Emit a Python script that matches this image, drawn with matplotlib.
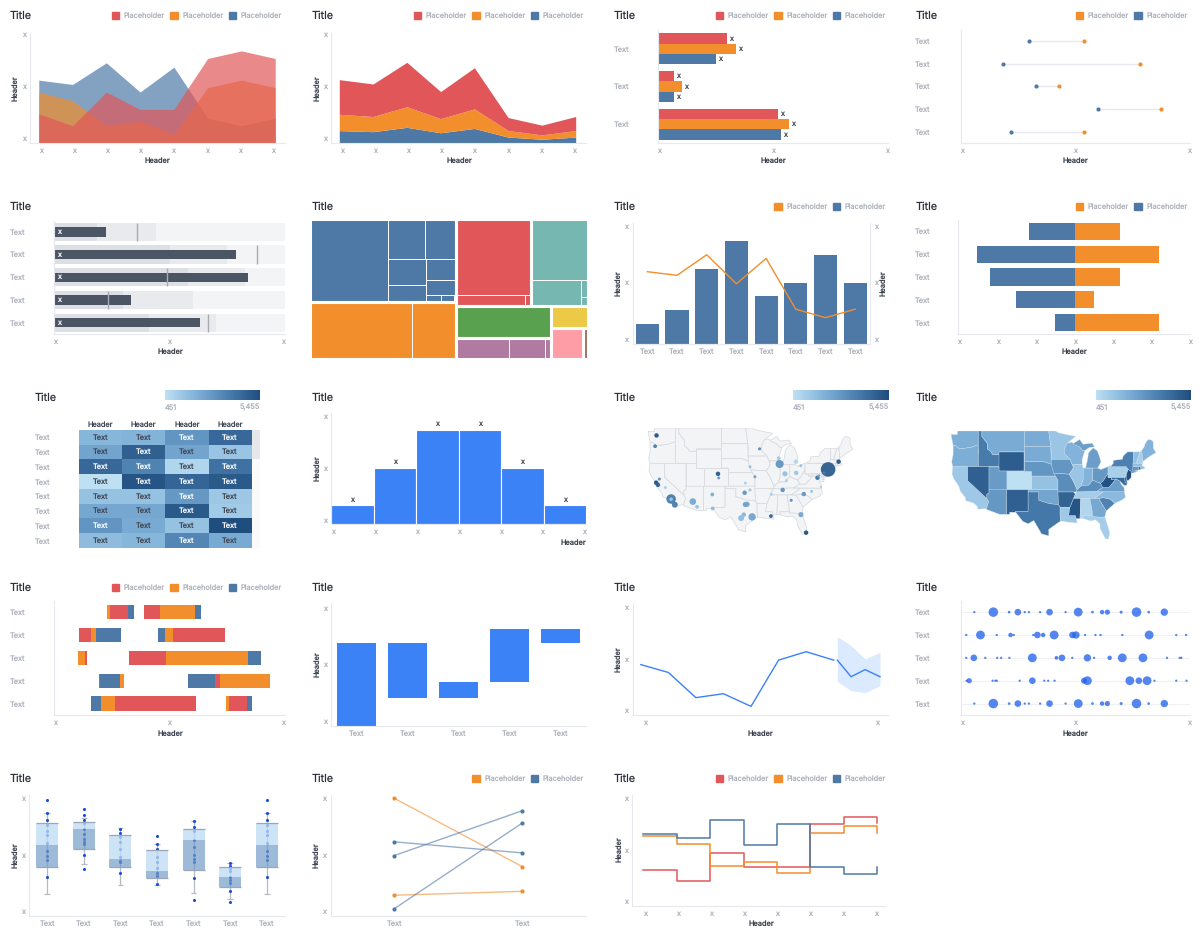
import numpy as np
import matplotlib
matplotlib.use('Agg')
import matplotlib.pyplot as plt
from matplotlib.colors import LinearSegmentedColormap, Normalize
from matplotlib.cm import ScalarMappable
from matplotlib.patches import Patch, Polygon, Rectangle

plt.rcParams['font.family'] = ['Inter', 'DejaVu Sans']
plt.rcParams['text.hinting'] = 'no_hinting'

W, H = 1200, 939
RED, ORANGE, BLUE = '#E15759', '#F28E2B', '#4E79A7'
TEAL, GREEN, YELLOW = '#76B7B2', '#59A14F', '#EDC948'
PURPLE, PINK, BROWN = '#B07AA1', '#FF9DA7', '#9C755F'
BRIGHT = '#3B82F6'
AXIS, GRAY, DARK, INK = '#e7e9ee', '#adb2bc', '#3f4652', '#2b303b'
SMALL = 5.3
TXT = ['Text'] * 5

# ---- data ----
overlap_red = [27, 16, 47, 31, 31, 78, 85, 78]
overlap_orange = [47, 39, 16, 20, 8, 51, 58, 51]
overlap_blue = [58, 54, 74, 47, 70, 23, 16, 23]

stack_blue = [11, 10, 14, 9, 13, 5, 3, 5]
stack_orange = [15, 14, 19, 13, 18, 6, 4, 6]
stack_red = [32, 30, 41, 25, 38, 12, 9, 13]

group_red = [30, 7, 52]
group_orange = [34, 10.5, 57]
group_blue = [25, 7, 53.5]

dumb_blue = [30, 18.7, 33, 60, 22]
dumb_orange = [54, 78, 43, 87.5, 54]

bullet_dark = [18.7, 50, 58, 29.7, 41]
bullet_mid = [44, 75, 82.5, 60, 70]
bullet_bar = [22.7, 79, 84, 33.5, 63]
bullet_target = [36, 88, 49, 23.5, 66.6]

tree_blue = ['h', 47916,
             ['v', ['h', 10998, 9243],
              ['h', ['v', 7275, 4850],
               ['v', 4712, 3268, ['h', 780, 660, 80]]]]]
tree_orange = ['h', 42640, 18204]
tree_red = ['v', 42402, ['h', 5600, 512]]
tree_teal = ['v', 25842, ['h', 9779, ['v', 969, 494]]]
tree_green = 21870
tree_purple = ['h', 8494, 5580, 992]
tree_yellow = 5985
tree_pink = 7298
tree_brown = 1157

combo_bars = [17, 28, 62, 85, 40, 51, 74, 51]
combo_line = [60, 57, 74, 50, 71, 29, 22, 29]

div_blue = [-1.18, -2.54, -2.2, -1.52, -0.51]
div_orange = [1.18, 2.19, 1.18, 0.5, 2.19]

heat_values = [[1900, 2000, 3000, 4500],
               [2500, 4800, 2500, 1400],
               [4500, 3600, 800, 4200],
               [451, 5200, 4600, 5000],
               [1500, 1500, 2900, 1300],
               [2400, 2400, 5000, 1200],
               [3000, 2300, 1500, 5455],
               [1700, 1900, 3500, 2300]]

hist_counts = [1, 3, 5, 5, 3, 1]

state_shapes = {
    'WA': [(-124.7, 48.4), (-123, 48.3), (-122.8, 49), (-117, 49), (-117, 46.4), (-119, 45.9), (-121, 45.7), (-122.3, 45.6), (-123.4, 46.2), (-124.1, 46.3)],
    'OR': [(-124.1, 46.3), (-123.4, 46.2), (-122.3, 45.6), (-121, 45.7), (-119, 45.9), (-117, 46.4), (-116.9, 45), (-117, 44.2), (-117, 42), (-124.2, 42), (-124.5, 43), (-124.1, 44.5)],
    'CA': [(-124.2, 42), (-120, 42), (-120, 39), (-114.6, 35), (-114.1, 34.3), (-114.7, 32.7), (-117.1, 32.5), (-117.3, 33.2), (-118.4, 34), (-120.5, 34.5), (-120.7, 35.3), (-122, 36.6), (-122.5, 37.8), (-123.8, 39.3), (-124.4, 40.4)],
    'NV': [(-120, 42), (-114, 42), (-114, 36.2), (-114.6, 36), (-114.6, 35), (-120, 39)],
    'ID': [(-117, 49), (-116, 49), (-116, 48), (-114.4, 46.6), (-114.5, 45.6), (-113.5, 45.1), (-113, 44.5), (-111.05, 44.5), (-111.05, 42), (-117, 42), (-117, 44.2), (-116.9, 45), (-117, 46.4)],
    'MT': [(-116, 49), (-104.05, 49), (-104.05, 45), (-111.05, 45), (-111.05, 44.5), (-113, 44.5), (-113.5, 45.1), (-114.5, 45.6), (-114.4, 46.6), (-116, 48)],
    'WY': [(-111.05, 45), (-104.05, 45), (-104.05, 41), (-111.05, 41)],
    'UT': [(-114, 42), (-111.05, 42), (-111.05, 41), (-109.05, 41), (-109.05, 37), (-114, 37)],
    'CO': [(-109.05, 41), (-102.05, 41), (-102.05, 37), (-109.05, 37)],
    'AZ': [(-114, 37), (-109.05, 37), (-109.05, 31.3), (-111, 31.3), (-114.8, 32.5), (-114.7, 32.7), (-114.1, 34.3), (-114.6, 35), (-114.6, 36), (-114, 36.2)],
    'NM': [(-109.05, 37), (-103, 37), (-103, 32), (-106.6, 32), (-106.5, 31.8), (-108.2, 31.8), (-108.2, 31.3), (-109.05, 31.3)],
    'ND': [(-104.05, 49), (-97.2, 49), (-96.6, 46), (-104.05, 46)],
    'SD': [(-104.05, 46), (-96.6, 46), (-96.5, 42.5), (-98.5, 43), (-104.05, 43)],
    'NE': [(-104.05, 43), (-98.5, 43), (-96.5, 42.5), (-95.3, 40), (-102.05, 40), (-102.05, 41), (-104.05, 41)],
    'KS': [(-102.05, 40), (-95.3, 40), (-94.6, 39.1), (-94.6, 37), (-102.05, 37)],
    'OK': [(-103, 37), (-94.6, 37), (-94.45, 33.6), (-97, 33.8), (-100, 34.6), (-100, 36.5), (-103, 36.5)],
    'TX': [(-106.6, 32), (-103, 32), (-103, 36.5), (-100, 36.5), (-100, 34.6), (-97, 33.8), (-94.45, 33.6), (-94, 33), (-94, 31), (-93.8, 29.7), (-95, 29), (-97.2, 27.6), (-97.2, 26), (-99.2, 26.5), (-101.4, 29.8), (-103, 29), (-104.5, 29.6), (-106.5, 31.8)],
    'MN': [(-97.2, 49), (-95.2, 49), (-94.6, 48.7), (-92, 48.3), (-89.6, 48), (-92, 46.7), (-92.8, 45.6), (-92.8, 44.7), (-91.2, 43.5), (-96.5, 43.5), (-96.5, 45.3), (-96.6, 46)],
    'IA': [(-96.5, 43.5), (-91.2, 43.5), (-90.2, 41.8), (-91.4, 40.4), (-95.8, 40.6), (-96.5, 42.5)],
    'MO': [(-95.8, 40.6), (-91.4, 40.4), (-90.2, 38.8), (-89.2, 37), (-89.4, 36.5), (-90.2, 36.5), (-94.6, 36.5), (-94.6, 39.1), (-95.3, 40)],
    'AR': [(-94.6, 36.5), (-90.2, 36.5), (-89.7, 36), (-90.2, 35), (-91.2, 33), (-94, 33), (-94.45, 33.6)],
    'LA': [(-94, 33), (-91.2, 33), (-91.6, 31), (-89.7, 31), (-89.4, 30.2), (-89.2, 29.2), (-91.5, 29.4), (-93.8, 29.7), (-94, 31)],
    'WI': [(-92, 46.7), (-90.8, 46.9), (-88.5, 46), (-87.7, 45.3), (-87, 45.3), (-87.8, 43.5), (-87.8, 42.5), (-90.6, 42.5), (-91.2, 43.5), (-92.8, 44.7), (-92.8, 45.6)],
    'IL': [(-90.6, 42.5), (-87.8, 42.5), (-87.5, 41.7), (-87.5, 39.3), (-88, 37.9), (-89.2, 37), (-90.2, 38.8), (-91.4, 40.4), (-90.2, 41.8)],
    'IN': [(-87.5, 41.7), (-84.8, 41.7), (-84.8, 39.1), (-86, 38), (-88, 37.9), (-87.5, 39.3)],
    'MI': [(-86.8, 41.75), (-84.8, 41.7), (-83.4, 41.7), (-82.5, 43), (-82.9, 44), (-83.5, 45.2), (-84.7, 45.8), (-86, 44.8), (-86.3, 43.3)],
    'UP': [(-90.4, 46.6), (-88.5, 47.4), (-87.5, 46.5), (-85, 46.7), (-84.3, 46), (-85.7, 45.9), (-87, 45.3), (-87.7, 45.3), (-88.5, 46)],
    'OH': [(-84.8, 41.7), (-83.4, 41.7), (-82.5, 41.4), (-80.5, 42), (-80.5, 40.6), (-81.8, 39), (-82.6, 38.4), (-84.8, 39.1)],
    'KY': [(-89.4, 36.5), (-83.7, 36.6), (-82, 37.5), (-82.6, 38.4), (-84.8, 39.1), (-86, 38), (-88, 37.9), (-89.2, 37)],
    'TN': [(-90.2, 35), (-84.3, 35), (-81.7, 36.6), (-83.7, 36.6), (-89.4, 36.5), (-89.7, 36)],
    'MS': [(-90.2, 35), (-88.2, 35), (-88.4, 30.3), (-89.4, 30.2), (-89.7, 31), (-91.6, 31), (-91.2, 33)],
    'AL': [(-88.2, 35), (-85.6, 35), (-85, 32.3), (-85, 31), (-87.6, 31), (-87.5, 30.3), (-88.4, 30.3)],
    'GA': [(-85.6, 35), (-83.1, 35), (-81, 32.1), (-81.4, 30.7), (-82.2, 30.6), (-84.9, 30.7), (-85, 32.3)],
    'FL': [(-87.6, 31), (-85, 31), (-84.9, 30.7), (-82.2, 30.6), (-81.4, 30.7), (-80.5, 28.2), (-80, 26.8), (-80.4, 25.2), (-81.2, 25.2), (-82.7, 27.8), (-82.8, 29), (-84, 30), (-85.3, 29.7), (-87.5, 30.3)],
    'SC': [(-83.1, 35), (-82, 35.2), (-81, 35.1), (-79.7, 34.8), (-78.6, 33.9), (-81, 32.1)],
    'NC': [(-84.3, 35), (-83.1, 35), (-82, 35.2), (-81, 35.1), (-79.7, 34.8), (-78.6, 33.9), (-76.5, 34.7), (-75.6, 35.3), (-75.9, 36.55), (-81.7, 36.6)],
    'VA': [(-83.7, 36.6), (-75.9, 36.55), (-76, 37.5), (-76.9, 38.3), (-77.1, 38.9), (-78.3, 39.4), (-79.3, 38.4), (-80.3, 37.5), (-82, 37.5)],
    'WV': [(-82.6, 38.4), (-82, 37.5), (-80.3, 37.5), (-79.3, 38.4), (-78.3, 39.4), (-79.5, 39.2), (-79.5, 39.7), (-80.5, 39.7), (-80.5, 40.6), (-81.8, 39)],
    'PA': [(-80.5, 42), (-79.8, 42.25), (-79.8, 42), (-75.4, 42), (-74.8, 41.4), (-75.2, 40.7), (-75.4, 39.8), (-80.5, 39.7)],
    'NY': [(-79.8, 42), (-79, 42.7), (-79, 43.3), (-76.5, 43.5), (-76.2, 44.2), (-75, 45), (-73.35, 45), (-73.3, 42.75), (-73.5, 41.1), (-72, 41), (-74, 40.6), (-74, 41), (-74.8, 41.4), (-75.4, 42)],
    'NJ': [(-74.8, 41.4), (-74, 41), (-74, 40.5), (-74, 39.7), (-74.9, 38.95), (-75.5, 39.5), (-75.2, 40.7)],
    'DE': [(-75.8, 39.7), (-75.4, 39.8), (-75.1, 38.5), (-75.7, 38.5)],
    'MD': [(-79.5, 39.7), (-75.8, 39.7), (-75.7, 38.5), (-75.1, 38.5), (-75.3, 38), (-76, 38), (-76.5, 38.4), (-77.1, 38.9), (-78.3, 39.4), (-79.5, 39.2)],
    'CT': [(-73.5, 42), (-71.8, 42), (-71.85, 41.3), (-73.6, 41)],
    'RI': [(-71.8, 42), (-71.4, 42), (-71.2, 41.5), (-71.85, 41.3)],
    'MA': [(-73.5, 42.75), (-71.3, 42.7), (-70.7, 42.7), (-71, 42.2), (-70, 41.8), (-70.6, 41.5), (-71.2, 41.5), (-71.4, 42), (-73.5, 42)],
    'VT': [(-73.35, 45), (-71.5, 45), (-72.5, 42.75), (-73.3, 42.75)],
    'NH': [(-71.5, 45), (-71, 45.3), (-70.7, 43.1), (-70.7, 42.7), (-72.5, 42.75)],
    'ME': [(-71, 45.3), (-70.3, 46), (-70, 46.7), (-69.2, 47.4), (-68.3, 47.3), (-67.8, 47), (-67.8, 45.7), (-67, 44.9), (-69, 44), (-70.7, 43.1)],
}
state_values = dict(WA=2200, OR=2200, CA=1300, NV=4800, ID=3900, MT=2300, WY=4900, UT=2800,
                    CO=451, AZ=2900, NM=4800, ND=2300, SD=2300, NE=3000, KS=1500, OK=2500,
                    TX=4000, MN=1400, IA=3000, MO=3300, AR=4700, LA=1300, WI=2000, IL=1400,
                    MI=2700, UP=2700, IN=2000, OH=2900, KY=3300, TN=1100, MS=5200, AL=800,
                    GA=2400, FL=1100, SC=3600, NC=1800, VA=2700, WV=5300, PA=1000, NY=3700,
                    VT=1600, NH=1000, ME=2000, MA=1600, CT=3000, RI=5000, NJ=5400, DE=5000, MD=4500)

city_lon = [-122.3, -122.7, -121.5, -122.4, -121.9, -119.8, -118.2, -118.2, -117.15, -112.1, -110.9, -106.6,
            -106.5, -105, -104.8, -96, -94.6, -97.3, -97.5, -96, -96.8, -97.3, -97.75, -98.5, -95.4, -90.1,
            -93.3, -87.65, -87.9, -83.05, -81.7, -86.15, -83, -85.75, -86.8, -90, -84.4, -80.85, -78.65,
            -81.65, -80.2, -74, -71.05, -75.15, -77, -76.6, -76]
city_lat = [47.6, 45.5, 38.6, 37.8, 37.3, 36.7, 34.05, 34, 32.7, 33.45, 32.2, 35.1,
            31.8, 39.75, 38.85, 41.25, 39.1, 37.7, 35.5, 36.15, 32.8, 32.75, 30.3, 29.45, 29.75, 29.95,
            44.98, 41.85, 43.05, 42.35, 41.5, 39.75, 39.95, 38.25, 36.15, 35.15, 33.75, 35.2, 35.8,
            30.3, 25.8, 40.7, 42.35, 39.95, 38.9, 39.3, 36.85]
city_size = [5, 4, 3, 5, 5, 3, 12, 4, 7, 8, 4, 4,
             4, 5, 3, 3, 3, 3, 5, 3, 6, 6, 5, 7, 9, 4,
             3, 10, 4, 5, 3, 6, 5, 3, 5, 3, 3, 5, 3,
             6, 5, 19, 5, 3, 5, 3, 2]
city_value = [5200, 3800, 3200, 5300, 4800, 1000, 3900, 1500, 3800, 2400, 1500, 2300,
              1800, 5000, 2800, 1500, 2700, 1000, 3000, 1400, 2300, 2600, 1900, 1700, 2500, 4800,
              3400, 3000, 1300, 800, 1500, 1500, 1400, 1000, 3100, 1000, 3300, 3000, 1400,
              2400, 5300, 4900, 5200, 3800, 4200, 2500, 1000]

gantt_row = [0, 0, 0, 0, 0, 0, 1, 1, 1, 1, 1, 1, 2, 2, 2, 2, 2, 3, 3, 3, 3, 3, 3, 4, 4, 4, 4, 4, 4]
gantt_start = [22.8, 24.2, 32, 39, 45.8, 61, 11, 16.2, 18, 45.2, 48, 51.7, 10.5, 13.3, 32.3, 48.5, 83.8,
               19.5, 20, 28.7, 58, 69.7, 72, 16.2, 20.5, 26.3, 74.3, 75.6, 83.4]
gantt_width = [1.3, 7.8, 2.5, 6.8, 15.2, 2.5, 5.2, 1.8, 10.8, 2.8, 3.7, 22.3, 2.8, 1, 16.2, 35.3, 5.8,
               0.5, 8.7, 1.5, 11.7, 2.3, 21.7, 4.3, 5.8, 35, 1.3, 7.8, 2.5]
gantt_series = ['o', 'r', 'b', 'r', 'o', 'b', 'r', 'o', 'b', 'b', 'o', 'r', 'o', 'r', 'r', 'o', 'b',
                'r', 'b', 'o', 'b', 'r', 'o', 'b', 'o', 'r', 'o', 'r', 'b']

fall_bottom = [0, 23.3, 23.3, 36, 68.6]
fall_height = [68.6, 45.7, 12.7, 44, 11.4]

trend_x = [0, 1, 2, 3, 4, 5, 6, 7]
trend_y = [45, 38, 15.5, 19, 7.7, 49, 56.5, 49]
fore_x = [7.13, 7.63, 8.14, 8.68]
fore_y = [49, 34.2, 40.5, 34.2]
fore_high = [70, 62, 50, 56]
fore_low = [30, 21.7, 20, 26]

strip_x1 = [6, 14.3, 21.2, 25, 28, 29.8, 34.7, 38.8, 45.8, 51.3, 57.5, 61.7, 64, 70, 76.7, 82, 88.8]
strip_r1 = [2, 12, 2.5, 8, 2, 2, 2, 8, 2, 11, 2.5, 5, 6, 3, 12, 2.5, 9]
strip_x2 = [2.5, 8.7, 15.8, 21.8, 23.2, 31.7, 33.5, 36, 40.8, 48.8, 50.3, 54.3, 58.8, 61, 70.5, 82.2, 94, 98.3]
strip_r2 = [2, 11, 2, 5, 2, 2, 8, 5, 11, 8, 9, 2, 2, 2, 2, 11, 2, 2]
strip_x3 = [2.5, 5.8, 10.8, 16, 17.7, 21.3, 31.3, 41.8, 44.2, 48.7, 55.3, 58.2, 65, 70.5, 79.5, 90, 95.5, 96.2]
strip_r3 = [2, 8, 2, 2, 2, 2, 11, 4, 8, 2, 9, 2, 5, 11, 11, 2, 2, 2]
strip_x4 = [2.7, 3.8, 14, 15.2, 15.8, 25.8, 31.3, 36.5, 38.2, 41, 53.8, 55.3, 73.8, 77.7, 81.3, 84.5, 94, 98.5]
strip_r4 = [2, 6, 2, 2, 2, 2, 8, 2, 2, 2, 7, 11, 11, 8, 11, 2, 2, 2]

box_wtop = [86.8, 82.5, 73.8, 60.6, 80.3, 44.8, 86.8]
box_q3 = [78.6, 79.4, 68.2, 56, 73.2, 41.7, 78.6]
box_med = [59.7, 73.2, 48.2, 38, 63.7, 33, 59.7]
box_q1 = [41.1, 56.9, 41.7, 32.4, 38.9, 24.5, 41.1]
box_wlow = [18.9, 43.7, 26.2, 26.2, 19.2, 14.6, 18.9]
box_points = [[97.5, 86.5, 80.8, 76.6, 71.3, 68.7, 61.4, 54.9, 50.7, 47.3, 33],
              [90.1, 85.4, 80.6, 78.3, 73.2, 69.3, 64.8, 62.3, 60.3, 51.8, 40],
              [73.5, 69.9, 66.2, 62, 56.3, 50.1, 46.5, 45.1, 36.3],
              [67.6, 60.3, 56.3, 50.1, 45.9, 40.8, 36.1, 33.5, 27.3],
              [80, 74.9, 71.3, 64.2, 58, 51.8, 48.2, 45.1, 31.8, 13.5],
              [44.5, 42.3, 40.3, 38, 33.2, 30.4, 27.6, 20.8, 11.8],
              [97.5, 86.5, 80.8, 76.6, 71.3, 68.7, 61.4, 54.9, 50.7, 47.3, 33]]

slope_orange = [[99.2, 41.7], [17.5, 20.8]]
slope_blue = [[51, 88.7], [62.5, 53.2], [6.2, 78.3]]

step_red = [32, 22, 47.6, 34.6, 34.6, 73.8, 80.1, 74.4]
step_orange = [62.7, 56, 36.1, 39.5, 29.8, 65.7, 72, 66]
step_blue = [64.5, 61.2, 77.1, 54.8, 73.8, 34.9, 28.5, 34.9]

# ---- helpers ----
fig = plt.figure(figsize=(12, 9.39), dpi=100, facecolor='white')
scale = LinearSegmentedColormap.from_list('scale', ['#bde0f3', '#7fb0d8', '#4a7eae', '#1f4d7e'])
norm = Normalize(451, 5455)


def panel(left, top, right, bottom):
    ax = fig.add_axes([left / W, 1 - bottom / H, (right - left) / W, (bottom - top) / H])
    ax.spines[['top', 'right']].set_visible(False)
    ax.spines[['left', 'bottom']].set_color(AXIS)
    ax.spines[['left', 'bottom']].set_linewidth(0.8)
    ax.tick_params(length=0, labelsize=SMALL, labelcolor=GRAY, pad=3)
    return ax


def put(x, y, s, size=SMALL, color=DARK, **kw):
    kw.setdefault('ha', 'center')
    kw.setdefault('va', 'center')
    fig.text(x / W, 1 - y / H, s, fontsize=size, color=color, **kw)


def title(x, y):
    put(x, y, 'Title', size=7.8, color=INK, ha='left')


def xhead(x, y, **kw):
    put(x, y, 'Header', fontweight='medium', **kw)


def yhead(x, y):
    put(x, y, 'Header', rotation=90, fontweight='medium')


def legend(colors, right, y):
    handles = [Patch(color=c) for c in colors]
    leg = fig.legend(handles, ['Placeholder'] * len(colors), loc='center right',
                     bbox_to_anchor=(right / W, 1 - (y + 1) / H), ncol=len(colors), frameon=False,
                     fontsize=SMALL, labelcolor=GRAY, borderaxespad=0, borderpad=0,
                     handlelength=1.05, handleheight=1.05, handletextpad=0.6, columnspacing=0.7)
    return leg


def x_ticks(ax, pos):
    ax.set_xticks(pos, ['x'] * len(pos))


def y_ticks(ax, pos):
    ax.set_yticks(pos, ['x'] * len(pos))


def band_rows(ax, labels, left, label_x):
    ax.set_yticks(range(len(labels)), labels)
    ax.set_ylim(len(labels) - 0.5, -0.5)
    ax.tick_params(axis='y', pad=(left - label_x) * 0.72)
    for t in ax.get_yticklabels():
        t.set_ha('left')


def node_total(node):
    if not isinstance(node, list):
        return node
    if node[0] == 'c':
        return node_total(node[2])
    return sum(node_total(n) for n in node[1:])


def draw_tree(ax, node, x, y, w, h, color=None):
    if not isinstance(node, list):
        ax.add_patch(Rectangle((x, y), w, h, facecolor=color, edgecolor='white', linewidth=0.7))
        return
    if node[0] == 'c':
        draw_tree(ax, node[2], x, y, w, h, node[1])
        ax.add_patch(Rectangle((x, y), w, h, fill=False, edgecolor='white', linewidth=2.2, zorder=5))
        return
    total = node_total(node)
    for child in node[1:]:
        share = node_total(child) / total
        if node[0] == 'h':
            draw_tree(ax, child, x, y, w * share, h, color)
            x += w * share
        else:
            draw_tree(ax, child, x, y, w, h * share, color)
            y += h * share


def mercator(lon, lat):
    return np.asarray(lon), np.degrees(np.log(np.tan(np.pi / 4 + np.radians(lat) / 2)))


def draw_states(ax, face=None, edge='#d5d8de', lw=0.5):
    all_xy = []
    for name, shape in state_shapes.items():
        pts = np.array(shape)
        x, y = mercator(pts[:, 0], pts[:, 1])
        xy = np.column_stack([x, y])
        all_xy.append(xy)
        fc = scale(norm(state_values[name])) if face is None else face
        ax.add_patch(Polygon(xy, closed=True, facecolor=fc, edgecolor=edge, linewidth=lw))
    all_xy = np.vstack(all_xy)
    ax.set_xlim(all_xy[:, 0].min(), all_xy[:, 0].max())
    ax.set_ylim(all_xy[:, 1].min(), all_xy[:, 1].max())
    ax.axis('off')


def scale_bar(left, right, top=390.3, bottom=399.5):
    cax = fig.add_axes([left / W, 1 - bottom / H, (right - left) / W, (bottom - top) / H])
    bar = fig.colorbar(ScalarMappable(norm=norm, cmap=scale), cax=cax, orientation='horizontal')
    bar.outline.set_visible(False)
    bar.set_ticks([451, 5455], labels=['451', '5,455'])
    cax.tick_params(length=0, labelsize=SMALL, labelcolor=GRAY, pad=3.5)
    labs = cax.get_xticklabels()
    labs[0].set_ha('left')
    labs[1].set_ha('right')


def area_radius(r):
    return (0.52 * (np.array(r) + 1.2)) ** 2


# ---- row 1 ----
x8 = np.arange(8)
area_ticks = np.linspace(0.07, 6.93, 8)
title(10, 16)
legend([RED, ORANGE, BLUE], 282, 15)
ax = panel(30, 33, 285, 143)
ax.fill_between(x8, overlap_blue, color=BLUE, alpha=0.7, lw=0)
ax.fill_between(x8, overlap_orange, color=ORANGE, alpha=0.7, lw=0)
ax.fill_between(x8, overlap_red, color=RED, alpha=0.7, lw=0)
ax.set_xlim(-0.26, 7.29)
ax.set_ylim(0, 101.5)
x_ticks(ax, area_ticks)
y_ticks(ax, [4.6, 52, 100])
xhead(157, 161)
yhead(15, 88)

title(311.5, 16)
legend([RED, ORANGE, BLUE], 584, 15)
ax = panel(331, 33, 586, 143)
ax.stackplot(x8, stack_blue, stack_orange, stack_red, colors=[BLUE, ORANGE, RED], lw=0)
ax.set_xlim(-0.26, 7.29)
ax.set_ylim(0, 101.5)
x_ticks(ax, area_ticks)
y_ticks(ax, [4.6, 52, 100])
xhead(459, 161)
yhead(317, 88)

title(613.8, 16)
legend([RED, ORANGE, BLUE], 886, 15)
ax = panel(658, 30, 888, 143)
rows = np.arange(3)
for off, vals, c in [(-0.276, group_red, RED), (0, group_orange, ORANGE), (0.276, group_blue, BLUE)]:
    ax.barh(rows + off, vals, height=0.276, color=c)
    for r, v in zip(rows, vals):
        ax.text(v + 1, r + off, 'x', fontsize=SMALL, color=DARK, va='center')
band_rows(ax, ['Text'] * 3, 658, 613.8)
ax.set_xlim(0, 100)
x_ticks(ax, [0.6, 50, 99.4])
xhead(773, 161)

title(915.3, 16)
legend([ORANGE, BLUE], 1187.5, 15)
ax = panel(960.5, 30, 1190, 143)
rows = np.arange(5)
ax.hlines(rows, dumb_blue, dumb_orange, color=AXIS, lw=1, zorder=1)
ax.scatter(dumb_blue, rows, s=9, color=BLUE, zorder=2, lw=0)
ax.scatter(dumb_orange, rows, s=9, color=ORANGE, zorder=2, lw=0)
band_rows(ax, TXT, 960.5, 915.3)
ax.set_xlim(0, 100)
x_ticks(ax, [0.6, 50, 99.4])
xhead(1075, 161)

# ---- row 2 ----
title(10, 207)
ax = panel(54, 220.5, 285, 334)
ax.barh(rows, [100] * 5, height=0.8, color='#f3f4f6')
ax.barh(rows, bullet_mid, height=0.8, color='#e8eaee')
ax.barh(rows, bullet_dark, height=0.8, color='#dcdfe4')
ax.barh(rows, bullet_bar, height=0.41, color='#4b5563')
ax.vlines(bullet_target, rows - 0.4, rows + 0.4, color='#a7abb4', lw=1)
for r in rows:
    ax.text(1.3, r, 'x', color='white', fontsize=SMALL, va='center')
band_rows(ax, TXT, 54, 10)
ax.set_xlim(0, 100)
x_ticks(ax, [0.6, 50, 99.4])
xhead(170, 352)

title(311.5, 207)
ax = panel(310, 218.5, 588.2, 359)
ax.axis('off')
ax.set_xlim(0, 1)
ax.set_ylim(1, 0)
tree_root = ['h',
             ['v', ['c', BLUE, tree_blue], ['c', ORANGE, tree_orange]],
             ['v',
              ['h', ['c', RED, tree_red], ['c', TEAL, tree_teal]],
              ['h',
               ['v', ['c', GREEN, tree_green], ['c', PURPLE, tree_purple]],
               ['v', ['c', YELLOW, tree_yellow],
                ['h', ['c', PINK, tree_pink], ['c', BROWN, tree_brown]]]]]]
draw_tree(ax, tree_root, 0, 0, 1, 1)

title(613.8, 207)
legend([ORANGE, BLUE], 886, 206)
ax = panel(632.5, 223.3, 870, 344.3)
ax.bar(x8, combo_bars, width=0.78, color=BLUE)
ax.set_xlim(-0.5, 7.5)
ax.set_ylim(0, 100)
ax.set_xticks(x8, ['Text'] * 8)
y_ticks(ax, [4, 51, 98])
right = ax.twinx()
right.plot(x8, combo_line, color=ORANGE, lw=1)
right.set_ylim(0, 100)
right.spines[['top', 'left']].set_visible(False)
right.spines[['right', 'bottom']].set_color(AXIS)
right.tick_params(length=0, labelsize=SMALL, labelcolor=GRAY, pad=3)
y_ticks(right, [4, 51, 98])
yhead(618, 283)
yhead(883.6, 283)

title(915.3, 207)
legend([ORANGE, BLUE], 1187.5, 206)
ax = panel(958, 220, 1190, 334)
ax.barh(rows, div_blue, height=0.76, color=BLUE)
ax.barh(rows, div_orange, height=0.76, color=ORANGE)
band_rows(ax, TXT, 958, 915.3)
ax.set_xlim(-3.04, 3)
x_ticks(ax, np.arange(-3, 4))
xhead(1074, 352)

# ---- row 3 ----
title(35, 397.5)
scale_bar(165, 260)
ax = panel(79, 430, 251.5, 548)
heat = np.array(heat_values)
ax.imshow(heat, cmap=scale, norm=norm, aspect='auto')
ax.spines[['left', 'bottom']].set_visible(False)
for r in range(8):
    for c in range(4):
        ax.text(c, r, 'Text', ha='center', va='center', fontsize=SMALL,
                color='white' if heat[r, c] > 2800 else DARK)
ax.xaxis.tick_top()
ax.set_xticks(range(4), ['Header'] * 4)
ax.tick_params(axis='x', labelcolor=DARK, pad=1.5)
ax.set_yticks(range(8), ['Text'] * 8)
ax.tick_params(axis='y', pad=(79 - 35) * 0.72)
for t in ax.get_yticklabels():
    t.set_ha('left')
fig.add_artist(Rectangle((251.5 / W, 1 - 548 / H), 8.5 / W, 118 / H, transform=fig.transFigure, color='#fafafb', lw=0))
fig.add_artist(Rectangle((251.5 / W, 1 - 459.5 / H), 8.5 / W, 29.5 / H, transform=fig.transFigure, color='#e5e7eb', lw=0))

title(311.5, 397.5)
ax = panel(331, 413, 586, 524.3)
bins = np.arange(6) + 0.5
ax.bar(bins, hist_counts, width=1, color=BRIGHT, edgecolor='white', lw=0.8)
for b, v in zip(bins, hist_counts):
    ax.text(b, v + 0.12, 'x', ha='center', va='bottom', fontsize=SMALL, color=DARK)
ax.set_xlim(0, 6)
ax.set_ylim(0, 5.9)
x_ticks(ax, np.linspace(0.06, 5.96, 7))
y_ticks(ax, [0.23, 3, 5.75])
xhead(586, 543, ha='right')
yhead(317, 468)

title(613.8, 397.5)
scale_bar(793, 888.5)
ax = panel(648, 428, 853, 535)
draw_states(ax, face='#f3f4f6')
cx, cy = mercator(city_lon, np.array(city_lat))
ax.scatter(cx, cy, s=area_radius(city_size), c=city_value, cmap=scale, norm=norm, lw=0, zorder=3, alpha=0.95)

title(915.3, 397.5)
scale_bar(1095.5, 1190.5)
ax = panel(951, 431, 1156, 539)
draw_states(ax, edge='#cfe0ee', lw=0.25)

# ---- row 4 ----
title(10, 588)
legend([RED, ORANGE, BLUE], 282, 587)
ax = panel(54, 600.7, 285, 715)
series_color = dict(r=RED, o=ORANGE, b=BLUE)
ax.barh(gantt_row, gantt_width, left=gantt_start, height=0.63, color=[series_color[s] for s in gantt_series])
band_rows(ax, TXT, 54, 10)
ax.set_xlim(0, 100)
x_ticks(ax, [0.6, 50, 99.4])
xhead(170, 733.5)

title(311.5, 588)
ax = panel(331, 603, 586, 725.7)
ax.bar(range(5), fall_height, bottom=fall_bottom, width=0.78, color=BRIGHT)
ax.set_xlim(-0.5, 4.5)
ax.set_ylim(0, 102)
ax.set_xticks(range(5), TXT)
y_ticks(ax, [4, 51, 98])
yhead(317, 664)

title(613.8, 588)
ax = panel(632.5, 603, 888, 715)
ax.fill_between(fore_x, fore_low, fore_high, color='#dbeafe', lw=0)
ax.plot(trend_x, trend_y, color=BRIGHT, lw=1)
ax.plot(fore_x, fore_y, color=BRIGHT, lw=1)
ax.set_xlim(-0.3, 8.97)
ax.set_ylim(0, 100)
x_ticks(ax, [0.14, 8.56])
y_ticks(ax, [4.5, 50.3, 96.4])
xhead(760, 733.5)
yhead(618, 659)

title(915.3, 588)
ax = panel(960.5, 600.7, 1190, 715)
ax.hlines(rows, 0, 100, color='#f0f1f4', lw=0.8, zorder=1)
strip_rows = [(strip_x1, strip_r1), (strip_x2, strip_r2), (strip_x3, strip_r3), (strip_x4, strip_r4), (strip_x1, strip_r1)]
for r, (sx, sr) in enumerate(strip_rows):
    ax.scatter(sx, [r] * len(sx), s=area_radius(sr), color='#2563eb', alpha=0.78, lw=0, zorder=2)
band_rows(ax, TXT, 960.5, 915.3)
ax.set_xlim(0, 100)
x_ticks(ax, [0.6, 50, 99.4])
xhead(1075, 733.5)

# ---- row 5 ----
title(10, 779)
ax = panel(29, 795, 285, 916)
pos = np.arange(7)
ax.vlines(pos, box_wlow, box_wtop, color='#b5b9c1', lw=0.9, zorder=1)
ax.hlines(box_wlow + box_wtop, list(pos - 0.08) * 2, list(pos + 0.08) * 2, color='#b5b9c1', lw=0.9, zorder=1)
for i, pts in enumerate(box_points):
    ax.scatter([i] * len(pts), pts, s=5, color='#1d4ed8', lw=0, zorder=2)
q3, med, q1 = np.array(box_q3), np.array(box_med), np.array(box_q1)
ax.bar(pos, q3 - med, bottom=med, width=0.6, color='#bcdcf3', alpha=0.75, zorder=3, lw=0)
ax.bar(pos, med - q1, bottom=q1, width=0.6, color='#6f9bc6', alpha=0.68, zorder=3, lw=0)
ax.hlines(box_q3 + box_q1, list(pos - 0.3) * 2, list(pos + 0.3) * 2, color='#9aa7b8', lw=0.9, zorder=4)
ax.set_xlim(-0.5, 6.5)
ax.set_ylim(0, 102)
ax.set_xticks(pos, ['Text'] * 7)
y_ticks(ax, [3.7, 51.5, 99.4])
yhead(15, 855)

title(311.5, 779)
legend([ORANGE, BLUE], 584, 778)
ax = panel(330.5, 795, 586, 916)
for pair in slope_orange:
    ax.plot([0, 1], pair, color=ORANGE, lw=1, alpha=0.6, zorder=1)
    ax.scatter([0, 1], pair, s=9, color=ORANGE, lw=0, zorder=2)
for pair in slope_blue:
    ax.plot([0, 1], pair, color=BLUE, lw=1, alpha=0.6, zorder=1)
    ax.scatter([0, 1], pair, s=9, color=BLUE, lw=0, zorder=2)
ax.set_xlim(-0.5, 1.5)
ax.set_ylim(0, 102)
ax.set_xticks([0, 1], ['Text'] * 2)
y_ticks(ax, [3.7, 51.5, 99.4])
yhead(316.5, 855)

title(613.8, 779)
legend([RED, ORANGE, BLUE], 886, 778)
ax = panel(632, 795, 885.5, 905.7)
for vals, c in [(step_red, RED), (step_orange, ORANGE), (step_blue, BLUE)]:
    ax.step(x8, vals, where='post', color=c, lw=1.1)
ax.set_xlim(-0.33, 7.24)
ax.set_ylim(0, 100)
x_ticks(ax, np.linspace(0.05, 6.95, 8))
y_ticks(ax, [4.2, 50.6, 97])
xhead(761, 924)
yhead(619, 849)

fig.savefig('out.png', dpi=100)
